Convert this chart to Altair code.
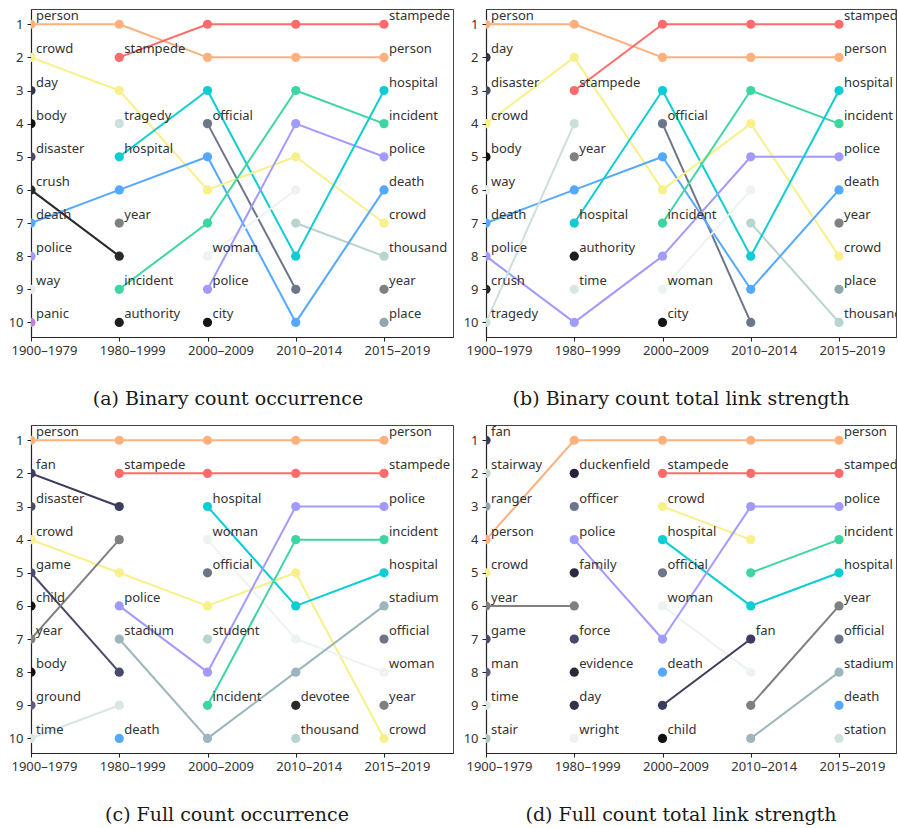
import json
import altair as alt
import pandas as pd

PERIODS = ["1900–1979", "1980–1999", "2000–2009", "2010–2014", "2015–2019"]

# ---- (a) Binary count occurrence: keywords by rank (1..10) per period
A_RANKS = [
    ["person", "crowd", "day", "body", "disaster", "crush", "death", "police", "way", "panic"],
    ["person", "stampede", "crowd", "tragedy", "hospital", "death", "year", "crush", "incident", "authority"],
    ["stampede", "person", "hospital", "official", "death", "crowd", "incident", "woman", "police", "city"],
    ["stampede", "person", "incident", "police", "crowd", "woman", "thousand", "hospital", "official", "death"],
    ["stampede", "person", "hospital", "incident", "police", "death", "crowd", "thousand", "year", "place"],
]
A_LABELS = [None,
            ["stampede", "tragedy", "hospital", "year", "incident", "authority"],
            ["official", "woman", "police", "city"],
            [],
            None]

# ---- (b) Binary count total link strength
B_RANKS = [
    ["person", "day", "disaster", "crowd", "body", "way", "death", "police", "crush", "tragedy"],
    ["person", "crowd", "stampede", "tragedy", "year", "death", "hospital", "authority", "time", "police"],
    ["stampede", "person", "hospital", "official", "death", "crowd", "incident", "police", "woman", "city"],
    ["stampede", "person", "incident", "crowd", "police", "woman", "thousand", "hospital", "death", "official"],
    ["stampede", "person", "hospital", "incident", "police", "death", "year", "crowd", "place", "thousand"],
]
B_LABELS = [None,
            ["stampede", "year", "hospital", "authority", "time"],
            ["official", "incident", "woman", "city"],
            [],
            None]

# ---- (c) Full count occurrence
C_RANKS = [
    ["person", "fan", "disaster", "crowd", "game", "child", "year", "body", "ground", "time"],
    ["person", "stampede", "fan", "year", "crowd", "police", "stadium", "game", "time", "death"],
    ["person", "stampede", "hospital", "woman", "official", "crowd", "student", "police", "incident", "stadium"],
    ["person", "stampede", "police", "incident", "crowd", "hospital", "woman", "stadium", "devotee", "thousand"],
    ["person", "stampede", "police", "incident", "hospital", "stadium", "official", "woman", "year", "crowd"],
]
C_LABELS = [None,
            ["stampede", "police", "stadium", "death"],
            ["hospital", "woman", "official", "student", "incident"],
            ["devotee", "thousand"],
            None]

# ---- (d) Full count total link strength
D_RANKS = [
    ["fan", "stairway", "ranger", "person", "crowd", "year", "game", "man", "time", "stair"],
    ["person", "duckenfield", "officer", "police", "family", "year", "force", "evidence", "day", "wright"],
    ["person", "stampede", "crowd", "hospital", "official", "woman", "police", "death", "fan", "child"],
    ["person", "stampede", "police", "crowd", "incident", "hospital", "fan", "woman", "year", "stadium"],
    ["person", "stampede", "police", "incident", "hospital", "year", "official", "stadium", "death", "station"],
]
D_LABELS = [None,
            ["duckenfield", "officer", "police", "family", "force", "evidence", "day", "wright"],
            ["stampede", "crowd", "hospital", "official", "woman", "death", "child"],
            ["fan"],
            None]

CAPTIONS = ["(a) Binary count occurrence", "(b) Binary count total link strength",
            "(c) Full count occurrence", "(d) Full count total link strength"]

# keyword colours
KW_COLORS = {
    "person": "#FFB07C", "stampede": "#FF6B6B", "crowd": "#F8F08A", "hospital": "#0BCDD3",
    "incident": "#3DD6A3", "police": "#A29BFE", "death": "#54A8FF", "official": "#6D7689",
    "year": "#808080", "woman": "#EDF3F1", "thousand": "#B8D3D0", "place": "#8FA7AE",
    "day": "#33334A", "body": "#111111", "disaster": "#4A4A65", "crush": "#2A2A2A",
    "way": "#E6EDEB", "panic": "#C57FE0", "tragedy": "#CCDFDD", "authority": "#1E1E1E",
    "city": "#151515", "time": "#D8E6E4", "fan": "#3C3C5C", "game": "#4A4A6A",
    "child": "#111111", "ground": "#5E5E80", "stadium": "#9CB6BB", "student": "#B9D4D2",
    "devotee": "#2A2A2A", "stairway": "#BFD6D3", "ranger": "#8FA7AE", "man": "#5E5E80",
    "stair": "#A9C8C5", "duckenfield": "#23233A", "officer": "#6D7689", "family": "#2A2A40",
    "force": "#48486A", "evidence": "#2A2A3A", "wright": "#EEF3F2", "station": "#CFE2DF",
}

FONT = "Noto Sans"


def build(ranks, labels):
    pts, segs = [], []
    for pi, lst in enumerate(ranks):
        for r, kw in enumerate(lst, start=1):
            show = labels[pi] is None or kw in labels[pi]
            pts.append({"p": pi, "rank": r, "kw": kw, "label": kw if show else ""})
            if pi + 1 < len(ranks) and kw in ranks[pi + 1]:
                seg = f"{kw}-{pi}"
                segs.append({"p": pi, "rank": r, "kw": kw, "seg": seg})
                segs.append({"p": pi + 1, "rank": ranks[pi + 1].index(kw) + 1, "kw": kw, "seg": seg})
    return pd.DataFrame(pts), pd.DataFrame(segs)


label_expr = json.dumps(PERIODS) + "[datum.value]"
color_scale = alt.Scale(domain=list(KW_COLORS.keys()), range=list(KW_COLORS.values()))
SPACING = 88.25


def panel(ranks, labels, caption, width, dx):
    pts, segs = build(ranks, labels)
    x = alt.X("p:Q",
              scale=alt.Scale(domain=[0, width / SPACING], nice=False, zero=False),
              axis=alt.Axis(values=[0, 1, 2, 3, 4], labelExpr=label_expr, title=None, grid=False,
                            labelOffset=13, labelFlush=False))
    y = alt.Y("rank:Q",
              scale=alt.Scale(domain=[0.54, 10.44], reverse=True, nice=False, zero=False),
              axis=alt.Axis(values=list(range(1, 11)), format="d", title=None, grid=False))
    color = alt.Color("kw:N", scale=color_scale, legend=None)
    lines = alt.Chart(segs).mark_line(strokeWidth=2, clip=True).encode(
        x=x, y=y, color=color, detail="seg:N")
    points = alt.Chart(pts).mark_circle(size=85, opacity=1, clip=True).encode(x=x, y=y, color=color)
    texts = alt.Chart(pts).mark_text(align="left", baseline="alphabetic", dx=5, dy=-4,
                                     font=FONT, fontSize=13, color="#333333", clip=True).encode(
        x=x, y=y, text="label:N")
    return alt.layer(lines, points, texts).properties(
        width=width, height=328,
        title=alt.TitleParams(caption, orient="bottom", anchor="middle", frame="group",
                              font="DejaVu Serif", fontSize=19, fontWeight="normal",
                              color="#1a1a1a", offset=33, dx=dx))


a = panel(A_RANKS, A_LABELS, CAPTIONS[0], 422, -14)
b = panel(B_RANKS, B_LABELS, CAPTIONS[1], 410, -10)
c = panel(C_RANKS, C_LABELS, CAPTIONS[2], 422, -15)
d = panel(D_RANKS, D_LABELS, CAPTIONS[3], 410, -10)

chart = alt.concat(a, b, c, d, columns=2, spacing={"row": 88, "column": 33}, bounds="flush").properties(
    padding={"left": 7, "top": 8, "right": 0, "bottom": 4}
).configure_view(stroke="#444444", strokeWidth=1).configure_axis(
    domainColor="#222222", domainWidth=1.2, tickColor="#222222", tickSize=4, tickWidth=1,
    labelFont=FONT, labelFontSize=13, labelColor="#333333", labelPadding=3
).configure_axisY(labelPadding=4)

chart.save("out.html", embed_options={"renderer": "svg", "actions": False})
